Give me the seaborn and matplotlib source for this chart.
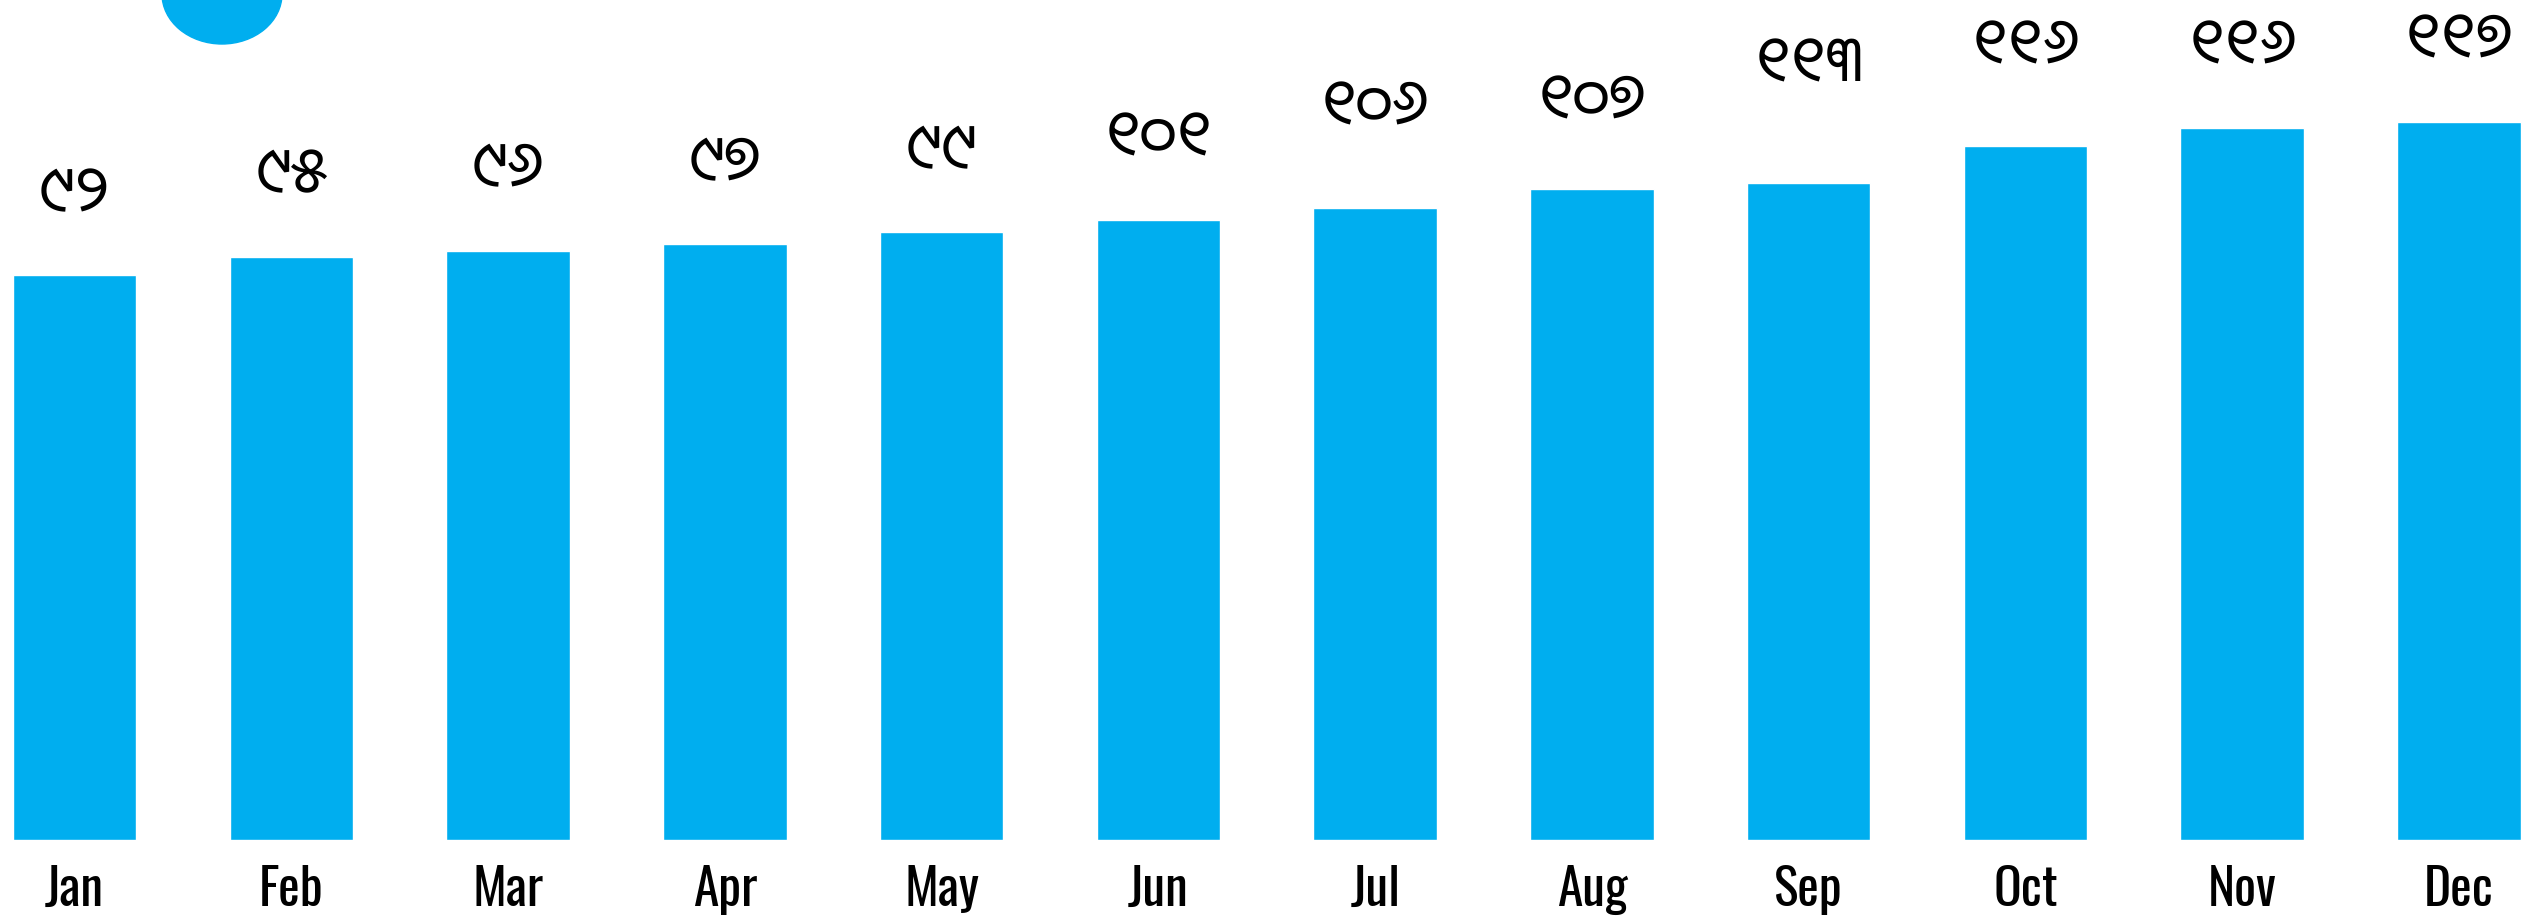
import matplotlib
matplotlib.use('Agg')
import pandas as pd
import matplotlib.pyplot as plt
from matplotlib.patches import Ellipse
import seaborn as sns

# data
months = ['Jan', 'Feb', 'Mar', 'Apr', 'May', 'Jun', 'Jul', 'Aug', 'Sep', 'Oct', 'Nov', 'Dec']
bar_values = [92, 95, 96, 97, 99, 101, 103, 106, 107, 113, 116, 117]
label_values = [92, 95, 96, 97, 99, 101, 106, 107, 113, 116, 116, 117]

odia_digits = '୦୧୨୩୪୫୬୭୮୯'
def to_odia(n):
    return ''.join(odia_digits[int(d)] for d in str(n))

df = pd.DataFrame({'month': months, 'value': bar_values})

sns.set_theme(style='white')
plt.rcParams['font.family'] = ['Oswald', 'DejaVu Sans']

fig = plt.figure(figsize=(25.45, 9.23), dpi=100)
ax = fig.add_axes([0, 83 / 923, 1, 840 / 923])

sns.barplot(data=df, x='month', y='value', color='#00aeef', saturation=1, width=0.57, ax=ax)

# value labels in Odia digits, sitting above their own value
for i, v in enumerate(label_values):
    ax.annotate(to_odia(v), (i, v), xytext=(0, 58.5), textcoords='offset points',
                ha='center', va='center', fontsize=46, family=['Noto Sans Oriya', 'DejaVu Sans'],
                color='black', annotation_clip=False)

ax.set_xlim(-0.344, 11.397)
ax.set_ylim(0, 136.8)
ax.set_xlabel('')
ax.set_ylabel('')
ax.set_yticks([])
ax.tick_params(axis='x', length=0, pad=18, labelsize=37, labelcolor='black')
sns.despine(left=True, bottom=True)

# legend marker, cut off by the top edge
fig.add_artist(Ellipse((2.22, 9.29), 1.2, 1.0, transform=fig.dpi_scale_trans, color='#00aeef'))

fig.savefig('out.png', dpi=100)
